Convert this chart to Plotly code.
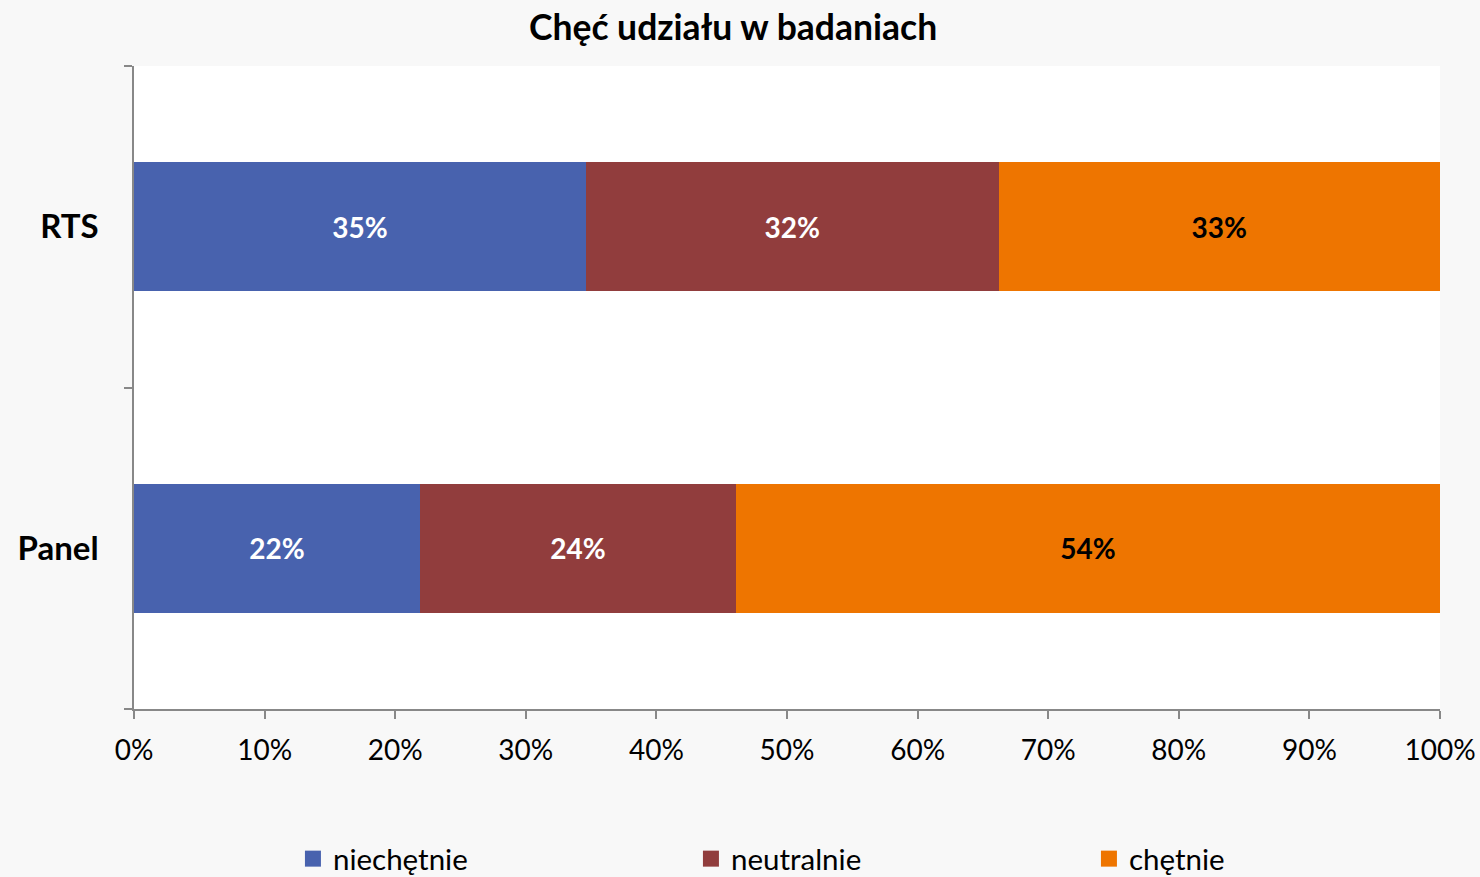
import plotly.graph_objects as go

categories = ["Panel", "RTS"]
series_names = ["niechętnie", "neutralnie", "chętnie"]
niechetnie = [21.9, 34.6]
neutralnie = [24.2, 31.6]
chetnie = [53.9, 33.8]
labels_niechetnie = ["22%", "35%"]
labels_neutralnie = ["24%", "32%"]
labels_chetnie = ["54%", "33%"]
x_ticks = [0, 10, 20, 30, 40, 50, 60, 70, 80, 90, 100]
x_ticklabels = [f"{v}%" for v in x_ticks]

colors = ["#4862AE", "#913D3D", "#EE7500"]
text_colors = ["white", "white", "black"]
values = [niechetnie, neutralnie, chetnie]
texts = [labels_niechetnie, labels_neutralnie, labels_chetnie]

FONT = "Lato"

fig = go.Figure()
for name, vals, txt, col, tcol in zip(series_names, values, texts, colors, text_colors):
    fig.add_trace(go.Bar(
        y=categories, x=vals, name=name, orientation="h",
        marker=dict(color=col, line=dict(width=0)),
        text=txt, textposition="inside", insidetextanchor="middle",
        textfont=dict(family=FONT, size=28, color=tcol, weight="bold"),
        hoverinfo="skip", showlegend=False,
    ))
# legend entries (square swatches)
for name, col in zip(series_names, colors):
    fig.add_trace(go.Scatter(
        x=[None], y=[None], mode="markers", name=name,
        marker=dict(symbol="square", size=18, color=col),
        hoverinfo="skip", showlegend=True,
    ))

fig.update_layout(
    width=1480, height=877,
    barmode="stack", bargap=0.6,
    paper_bgcolor="#F8F8F8", plot_bgcolor="#FFFFFF",
    margin=dict(l=134, r=40, t=66, b=168, autoexpand=False),
    title=dict(text="<b>Chęć udziału w badaniach</b>", x=0.4953, xanchor="center",
               y=0.968, yanchor="middle",
               font=dict(family=FONT, size=35.5, color="black")),
    font=dict(family=FONT, color="black"),
    showlegend=True,
    legend=dict(orientation="h", x=0.1217, xanchor="left", y=-0.1928, yanchor="top",
                entrywidth=353, entrywidthmode="pixels", traceorder="normal",
                font=dict(family=FONT, size=29.5, color="black"),
                bgcolor="rgba(0,0,0,0)"),
    xaxis=dict(range=[0, 100], tickvals=x_ticks, ticktext=x_ticklabels,
               showgrid=False, zeroline=False, showline=True, linecolor="#888888", linewidth=1.5,
               ticks="outside", ticklen=8, tickcolor="#888888", tickwidth=1.5,
               ticklabelstandoff=8,
               tickfont=dict(family=FONT, size=28, color="black"), fixedrange=True),
    yaxis=dict(type="category", categoryorder="array", categoryarray=categories,
               range=[-0.5, 1.5], tickson="boundaries",
               showgrid=False, zeroline=False, showline=True, linecolor="#888888", linewidth=1.5,
               ticks="outside", ticklen=8, tickcolor="#888888", tickwidth=1.5,
               ticklabelstandoff=27,
               tickfont=dict(family=FONT, size=33, color="black", weight="bold"), fixedrange=True),
)

fig.write_html(
    "out.html",
    config={"displayModeBar": False},
    post_script="document.body.style.margin='0';document.body.style.overflow='hidden';",
)
